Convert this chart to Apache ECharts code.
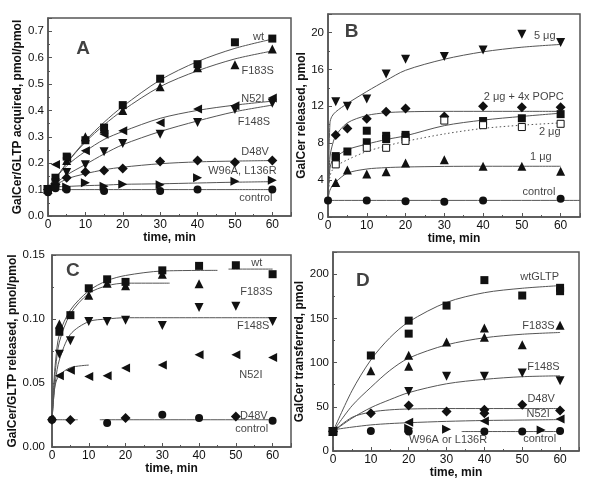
<!DOCTYPE html>
<html><head><meta charset="utf-8">
<script src="https://cdn.jsdelivr.net/npm/echarts@6/dist/echarts.min.js"></script>
<style>html,body{margin:0;padding:0;background:#fff}#c{width:600px;height:491px}</style>
</head><body><div id="c"></div>
<script>
// ---------- Panel A : GalCer/GLTP acquired ----------
const aTime = [0, 2, 5, 10, 15, 20, 30, 40, 50, 60];
const aWt = [0.10, 0.145, 0.225, 0.287, 0.335, 0.42, 0.52, 0.575, 0.658, 0.672];
const aF183S = [0.10, 0.13, 0.21, 0.30, 0.33, 0.40, 0.49, 0.562, 0.573, 0.633];
const aN52I = [null, 0.195, 0.22, 0.247, 0.31, 0.323, 0.353, 0.405, 0.418, 0.447];
const aF148S = [0.10, 0.125, 0.165, 0.194, 0.243, 0.275, 0.31, 0.354, 0.403, 0.427];
const aD48V = [0.10, 0.12, 0.145, 0.167, 0.172, 0.18, 0.206, 0.21, 0.204, 0.21];
const aW96A = [0.10, 0.11, 0.11, 0.126, 0.113, 0.12, 0.118, 0.145, 0.132, 0.135];
const aControl = [0.09, 0.105, 0.10, null, 0.095, null, 0.095, 0.10, null, 0.10];
const aFitTime = [0, 5, 10, 15, 20, 30, 40, 50, 60];
const aWtFit = [0.10, 0.20, 0.285, 0.355, 0.415, 0.515, 0.585, 0.635, 0.67];
const aF183SFit = [0.10, 0.20, 0.28, 0.345, 0.40, 0.49, 0.55, 0.595, 0.625];
const aN52IFit = [0.11, 0.19, 0.245, 0.29, 0.32, 0.37, 0.40, 0.42, 0.435];
const aF148SFit = [0.10, 0.155, 0.195, 0.235, 0.27, 0.32, 0.36, 0.395, 0.42];
const aD48VFit = [0.10, 0.14, 0.16, 0.175, 0.185, 0.198, 0.205, 0.208, 0.21];
const aW96AFit = [0.11, 0.112, 0.115, 0.117, 0.12, 0.122, 0.125, 0.128, 0.13];
const aControlFit = [0.10, 0.10, 0.10, 0.10, 0.10, 0.10, 0.10, 0.10, 0.10];
const aLabels = ['wt', 'F183S', 'N52I', 'F148S', 'D48V', 'W96A, L136R', 'control'];
const aLabelX = [56.3, 56.1, 54.8, 55.1, 55.4, 52.0, 55.6];
const aLabelY = [0.679, 0.549, 0.443, 0.357, 0.244, 0.169, 0.069];

// ---------- Panel B : GalCer released ----------
const bTime = [0, 2, 5, 10, 15, 20, 30, 40, 50, 60];
const b5ug = [null, 12.5, 12.0, 12.8, 15.5, 17.1, 17.4, 18.1, 19.8, 18.9];
const b2ugPOPC = [null, 8.9, 9.6, 10.65, 11.4, 11.75, 10.9, 12.0, 11.9, 11.9];
const b2ugRep1 = [null, 6.6, 7.1, 9.35, 8.8, 8.9, null, 10.4, 10.7, 11.15];
const b2ugRep2 = [null, 6.4, null, 8.1, 8.45, 8.65, null, null, null, null];
const b2ugOpen = [null, 5.7, null, 7.5, 7.5, 8.25, 10.45, 9.95, 9.75, 10.1];
const b1ug = [null, 3.75, 5.1, 4.65, 4.9, 5.85, 6.2, 5.5, 5.5, 4.95];
const bControl = [1.8, null, null, 1.8, null, 1.7, 1.65, 1.8, null, 1.98];
const bFitTime = [0, 0.5, 1, 2, 5, 10, 15, 20, 30, 40, 50, 60];
const b5ugFit = [2, 10.2, 10.9, 11.4, 12.3, 13.6, 14.8, 15.9, 17.1, 17.9, 18.4, 18.7];
const b2ugPOPCFit = [2, 6.5, 7.6, 8.8, 10.2, 11.0, 11.3, 11.4, 11.45, 11.45, 11.45, 11.45];
const b2ugFit = [2, 5.3, 6.0, 6.5, 7.3, 7.9, 8.4, 8.8, 9.9, 10.5, 10.9, 11.25];
const b2ugOpenFit = [2, 4.4, 5.0, 5.5, 6.2, 7.1, 7.7, 8.2, 9.0, 9.6, 9.95, 10.2];
const b1ugFit = [2, 2.9, 3.3, 3.8, 4.75, 5.2, 5.35, 5.42, 5.48, 5.5, 5.5, 5.5];
const bControlFitTime = [0, 65];
const bControlFit = [1.8, 1.8];
const bLabels = ['5 μg', '2 μg + 4x POPC', '2 μg', '1 μg', 'control'];
const bLabelX = [55.9, 50.5, 57.2, 54.9, 54.4];
const bLabelY = [19.65, 13.05, 9.17, 6.5, 2.67];

// ---------- Panel C : GalCer/GLTP released ----------
const cTime = [0, 2, 5, 10, 15, 20, 30, 40, 50, 60];
const cWt = [null, 0.090, 0.103, 0.124, 0.131, 0.129, 0.138, 0.1415, 0.142, 0.135];
const cF183S = [null, 0.096, null, 0.1185, 0.128, 0.126, 0.135, 0.1275, null, null];
const cF148S = [null, 0.0725, 0.083, 0.098, 0.098, 0.099, 0.095, 0.109, 0.110, 0.098];
const cN52I = [null, 0.0557, 0.060, 0.055, 0.0557, 0.0617, 0.064, 0.072, 0.072, 0.070];
const cD48V = [0.0213, null, 0.021, null, null, 0.0227, null, null, 0.0239, null];
const cControl = [0.0213, null, null, null, 0.0187, null, 0.0252, 0.0227, null, 0.0205];
const cWtFitTime = [0, 0.5, 1, 2, 5, 10, 15, 20, 30, 45, 46, 48, 60];
const cWtFit = [0.021, 0.05, 0.068, 0.088, 0.107, 0.122, 0.130, 0.134, 0.1375, 0.138, null, 0.139, 0.139];
const cF183SFitTime = [0, 0.5, 1, 2, 5, 10, 15, 20, 32];
const cF183SFit = [0.021, 0.045, 0.062, 0.082, 0.104, 0.12, 0.126, 0.128, 0.128];
const cF148SFitTime = [0, 0.5, 1, 2, 5, 10, 15, 20, 60];
const cF148SFit = [0.021, 0.04, 0.053, 0.068, 0.088, 0.098, 0.1, 0.101, 0.101];
const cN52IFitTime = [0, 0.5, 1, 2, 5, 10];
const cN52IFit = [0.021, 0.04, 0.05, 0.056, 0.062, 0.064];
const cBaseFitTime = [0, 7, 10, 13, 60];
const cBaseFit = [0.0213, 0.0213, null, 0.0213, 0.0213];
const cLabels = ['wt', 'F183S', 'F148S', 'N52I', 'D48V', 'control'];
const cLabelX = [55.7, 55.6, 54.7, 54.1, 54.9, 54.3];
const cLabelY = [0.1435, 0.1215, 0.0945, 0.056, 0.0245, 0.0143];

// ---------- Panel D : GalCer transferred ----------
const dTime = [0, 10, 20, 30, 40, 50, 60];
const dWt = [22, 108, 147.4, 164.4, 193.2, 175.8, 184.5];
const dWt2 = [null, null, 132.7, null, null, null, 180.7];
const dF183S = [22, 90.7, 108.2, 123.3, 139.1, 120.2, 142.2];
const dF183S2 = [null, null, 95.7, null, 128.6, null, null];
const dF148S = [22, null, 67.3, 84.4, 84.4, 88.1, 79.4];
const dD48V = [22, 42.8, 51.5, 44.7, 46.5, 52.2, 45.8];
const dD48V2 = [null, null, null, null, 42.8, null, null];
const dN52I = [23, null, 32.5, null, 34.0, null, 36.3];
const dControl = [22.7, 22.7, 22, null, 22, 22, 22.7];
const dW96ATime = [0, 20, 30, 55];
const dW96A = [22, 25.7, 24.6, 23.8];
const dFitTime = [0, 5, 10, 15, 20, 30, 40, 50, 60];
const dWtFit = [22, 68, 103, 128, 146, 168, 179, 184, 187];
const dF183SFit = [22, 51, 72, 91, 105, 120, 128, 132, 134];
const dF148SFit = [22, 37, 49, 58, 66, 76, 81, 84, 85];
const dD48VFit = [22, 38, 44, 46.5, 47.5, 48, 48, 48, 48];
const dN52IFit = [24, 27, 29.5, 31, 32, 33.5, 34.5, 35, 35.5];
const dControlFitTime = [34, 60];
const dControlFit = [22, 22];
const dLabels = ['wtGLTP', 'F183S', 'F148S', 'D48V', 'N52I', 'W96A or L136R', 'control'];
const dLabelX = [54.6, 54.3, 55.6, 55.0, 54.2, 30.4, 54.6];
const dLabelY = [196.5, 141.5, 95.5, 58.6, 41.5, 12.9, 13.2];

// panel letters
const panelLetters = ['A', 'B', 'C', 'D'];
const letterX = [9.4, 6.1, 5.7, 7.9];
const letterY = [0.633, 20.1, 0.1377, 192.8];

// ---------- building ----------
const FONT = '"Liberation Sans", Arial, Helvetica, sans-serif';
const INK = '#111';
const FRAME = '#555';
const FIT = '#555';

function pairs(xs, ys) { return xs.map((x, i) => (ys[i] == null ? null : [x, ys[i]])).filter(p => p); }
function linePairs(xs, ys) { return xs.map((x, i) => [x, ys[i] == null ? '-' : ys[i]]); }

const SYM = {
  square: { symbol: 'rect', size: 8, rotate: 0 },
  up: { symbol: 'triangle', size: 9, rotate: 0 },
  down: { symbol: 'triangle', size: 9, rotate: 180 },
  left: { symbol: 'triangle', size: 9, rotate: 90 },
  right: { symbol: 'triangle', size: 9, rotate: -90 },
  diamond: { symbol: 'diamond', size: 10, rotate: 0 },
  circle: { symbol: 'circle', size: 8, rotate: 0 },
  open: { symbol: 'rect', size: 7, rotate: 0, hollow: true }
};

const series = [];
function addPts(g, xs, ys, kind) {
  const s = SYM[kind];
  const style = s.hollow
    ? { color: '#fff', borderColor: INK, borderWidth: 1, opacity: 1 }
    : { color: INK, opacity: 1 };
  series.push({
    type: 'scatter', xAxisIndex: g, yAxisIndex: g, symbol: s.symbol, symbolSize: s.size,
    symbolRotate: s.rotate, itemStyle: style, data: pairs(xs, ys), z: 4, silent: true
  });
}
function addFit(g, xs, ys, dotted) {
  series.push({
    type: 'line', xAxisIndex: g, yAxisIndex: g, data: linePairs(xs, ys), smooth: 0.3,
    showSymbol: false, symbol: 'none', connectNulls: false,
    lineStyle: { color: FIT, width: 1, type: dotted ? [1.5, 2.5] : 'solid' }, z: 3, silent: true
  });
}
function addLabels(g, texts, xs, ys, size, bold) {
  series.push({
    type: 'scatter', xAxisIndex: g, yAxisIndex: g, symbolSize: 0, silent: true, z: 5,
    data: texts.map((t, i) => ({ name: t, value: [xs[i], ys[i]] })),
    label: { show: true, position: 'inside', formatter: '{b}', color: INK, fontFamily: FONT, fontSize: size, fontWeight: bold ? 'bold' : 'normal' }
  });
}

// A
addFit(0, aFitTime, aWtFit); addFit(0, aFitTime, aF183SFit); addFit(0, aFitTime, aN52IFit);
addFit(0, aFitTime, aF148SFit); addFit(0, aFitTime, aD48VFit); addFit(0, aFitTime, aW96AFit);
addFit(0, aFitTime, aControlFit);
addPts(0, aTime, aWt, 'square'); addPts(0, aTime, aF183S, 'up'); addPts(0, aTime, aN52I, 'left');
addPts(0, aTime, aF148S, 'down'); addPts(0, aTime, aD48V, 'diamond'); addPts(0, aTime, aW96A, 'right');
addPts(0, aTime, aControl, 'circle');
addLabels(0, aLabels, aLabelX, aLabelY, 11, false);
// B
addFit(1, bFitTime, b5ugFit); addFit(1, bFitTime, b2ugPOPCFit); addFit(1, bFitTime, b2ugFit);
addFit(1, bFitTime, b2ugOpenFit, true); addFit(1, bFitTime, b1ugFit); addFit(1, bControlFitTime, bControlFit);
addPts(1, bTime, b5ug, 'down'); addPts(1, bTime, b2ugPOPC, 'diamond'); addPts(1, bTime, b2ugRep1, 'square');
addPts(1, bTime, b2ugRep2, 'square'); addPts(1, bTime, b2ugOpen, 'open'); addPts(1, bTime, b1ug, 'up');
addPts(1, bTime, bControl, 'circle');
addLabels(1, bLabels, bLabelX, bLabelY, 11, false);
// C
addFit(2, cWtFitTime, cWtFit); addFit(2, cF183SFitTime, cF183SFit); addFit(2, cF148SFitTime, cF148SFit);
addFit(2, cN52IFitTime, cN52IFit); addFit(2, cBaseFitTime, cBaseFit);
addPts(2, cTime, cWt, 'square'); addPts(2, cTime, cF183S, 'up'); addPts(2, cTime, cF148S, 'down');
addPts(2, cTime, cN52I, 'left'); addPts(2, cTime, cD48V, 'diamond'); addPts(2, cTime, cControl, 'circle');
addLabels(2, cLabels, cLabelX, cLabelY, 11, false);
// D
addFit(3, dFitTime, dWtFit); addFit(3, dFitTime, dF183SFit); addFit(3, dFitTime, dF148SFit);
addFit(3, dFitTime, dD48VFit); addFit(3, dFitTime, dN52IFit); addFit(3, dControlFitTime, dControlFit);
addPts(3, dTime, dWt, 'square'); addPts(3, dTime, dWt2, 'square'); addPts(3, dTime, dF183S, 'up');
addPts(3, dTime, dF183S2, 'up'); addPts(3, dTime, dF148S, 'down'); addPts(3, dTime, dD48V, 'diamond');
addPts(3, dTime, dD48V2, 'diamond'); addPts(3, dTime, dN52I, 'left'); addPts(3, dTime, dControl, 'circle');
addPts(3, dW96ATime, dW96A, 'right');
addLabels(3, dLabels, dLabelX, dLabelY, 11, false);
// letters
for (let g = 0; g < 4; g++) addLabels(g, [panelLetters[g]], [letterX[g]], [letterY[g]], 19, true);

function xAx(g, gap) {
  return {
    type: 'value', gridIndex: g, min: 0, max: 65, interval: 10, name: 'time, min', nameLocation: 'middle', nameGap: gap,
    nameTextStyle: { fontFamily: FONT, fontSize: 12, fontWeight: 'bold', color: INK },
    axisLine: { show: true, onZero: false, lineStyle: { color: FRAME, width: 1.5 } },
    axisTick: { show: true, inside: true, length: 4, lineStyle: { color: FRAME } },
    minorTick: { show: true, splitNumber: 2, length: 2, lineStyle: { color: FRAME } },
    splitLine: { show: false },
    axisLabel: { fontFamily: FONT, fontSize: 12, color: INK, margin: 3, showMinLabel: true, showMaxLabel: false }
  };
}
function yAx(g, name, max, interval, dec, gap, showMax, margin) {
  return {
    type: 'value', gridIndex: g, min: 0, max: max, interval: interval, name: name, nameLocation: 'middle', nameGap: gap,
    nameTextStyle: { fontFamily: FONT, fontSize: 12, fontWeight: 'bold', color: INK },
    axisLine: { show: true, onZero: false, lineStyle: { color: FRAME, width: 1.5 } },
    axisTick: { show: true, inside: true, length: 4, lineStyle: { color: FRAME } },
    minorTick: { show: true, splitNumber: 2, length: 2, lineStyle: { color: FRAME } },
    splitLine: { show: false },
    axisLabel: { fontFamily: FONT, fontSize: 11.5, color: INK, margin: margin, showMinLabel: true, showMaxLabel: showMax, formatter: v => v.toFixed(dec) }
  };
}
const gridBase = { show: true, borderColor: FRAME, borderWidth: 1.5, containLabel: false };
const option = {
  animation: false,
  backgroundColor: '#fff',
  grid: [
    Object.assign({ left: 48, top: 18, width: 243, height: 198 }, gridBase),
    Object.assign({ left: 328, top: 14, width: 252, height: 203 }, gridBase),
    Object.assign({ left: 52, top: 255, width: 239, height: 192 }, gridBase),
    Object.assign({ left: 333, top: 252, width: 246, height: 199 }, gridBase)
  ],
  xAxis: [xAx(0, 11), xAx(1, 15), xAx(2, 13), xAx(3, 13)],
  yAxis: [
    yAx(0, 'GalCer/GLTP acquired, pmol/pmol', 0.75, 0.1, 1, 16, false, 4),
    yAx(1, 'GalCer released, pmol', 22, 4, 0, 17, false, 4),
    yAx(2, 'GalCer/GLTP released, pmol/pmol', 0.15, 0.05, 2, 30, true, 7),
    yAx(3, 'GalCer transferred, pmol', 225, 50, 0, 18, false, 4)
  ],
  series: series
};
const chart = echarts.init(document.getElementById('c'), null, { renderer: 'canvas' });
chart.setOption(option);
</script>
</body></html>
